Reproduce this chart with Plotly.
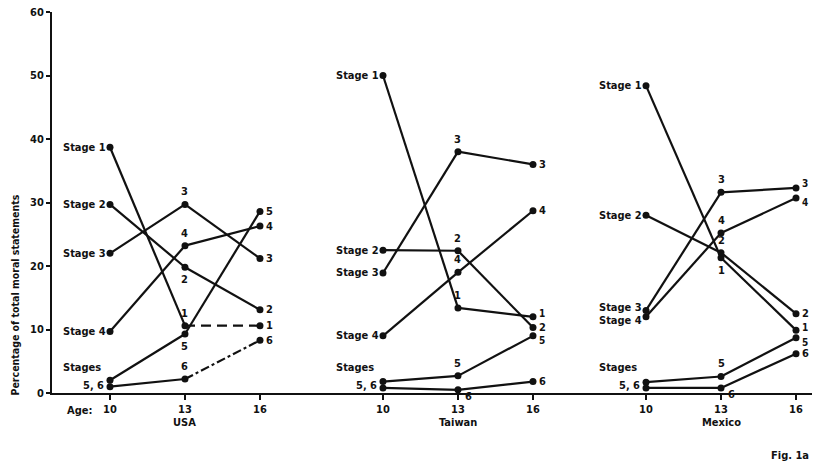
import plotly.graph_objects as go

# ---------------- data ----------------
ages = [10, 13, 16]
countries = ["USA", "Taiwan", "Mexico"]
stages = [1, 2, 3, 4, 5, 6]

usa_values = {
    1: [38.7, 10.6, 10.6],
    2: [29.7, 19.8, 13.1],
    3: [22.0, 29.7, 21.2],
    4: [9.7, 23.2, 26.3],
    5: [2.0, 9.3, 28.6],
    6: [1.0, 2.2, 8.3],
}
taiwan_values = {
    1: [50.0, 13.4, 12.0],
    2: [22.5, 22.4, 10.3],
    3: [18.9, 38.0, 36.0],
    4: [9.0, 19.0, 28.7],
    5: [1.8, 2.7, 9.0],
    6: [0.8, 0.5, 1.8],
}
mexico_values = {
    1: [48.4, 21.3, 9.9],
    2: [28.0, 22.1, 12.5],
    3: [13.0, 31.6, 32.3],
    4: [12.0, 25.2, 30.7],
    5: [1.7, 2.6, 8.7],
    6: [0.8, 0.8, 6.2],
}
values = {"USA": usa_values, "Taiwan": taiwan_values, "Mexico": mexico_values}

# label placement at age 13 (above / below / right)
label13 = {
    "USA":    {1: "above", 2: "below", 3: "above", 4: "above", 5: "below", 6: "above"},
    "Taiwan": {1: "above", 2: "above", 3: "above", 4: "above", 5: "above", 6: "right"},
    "Mexico": {1: "below", 2: "above", 3: "above", 4: "above", 5: "above", 6: "right"},
}
# small vertical nudges for crowded labels (pixels)
shift10 = {("Mexico", 3): 3, ("Mexico", 4): -4}
shift16 = {("Taiwan", 1): 3, ("Taiwan", 5): -5,
           ("Mexico", 3): 4, ("Mexico", 4): -4,
           ("Mexico", 1): 3, ("Mexico", 5): -5}
# dashed segments (segment index between ages)
dashed = {("USA", 1): {1: "10px,6px"}, ("USA", 6): {1: "dashdot"}}

y_ticks = [0, 10, 20, 30, 40, 50, 60]

# ---------------- layout constants ----------------
axis_names = {"USA": "x", "Taiwan": "x2", "Mexico": "x3"}
domains = {"USA": [0, 0.3526], "Taiwan": [0.3526, 0.7079], "Mexico": [0.7079, 1.0]}
ranges = {"USA": [7.68, 18.4], "Taiwan": [7.48, 18.28], "Mexico": [7.76, 16.64]}

FONT = "DejaVu Sans Condensed"
INK = "#111111"


def f(size=11):
    return dict(family=FONT, size=size, color=INK, weight="bold")


fig = go.Figure()
annotations = []

for c in countries:
    xa = axis_names[c]
    for s in stages:
        vals = values[c][s]
        dsegs = dashed.get((c, s), {})
        for i in range(len(ages) - 1):
            fig.add_trace(go.Scatter(
                x=ages[i:i + 2], y=vals[i:i + 2], xaxis=xa, yaxis="y",
                mode="lines",
                line=dict(color=INK, width=2.2, dash=dsegs.get(i, "solid")),
                showlegend=False, hoverinfo="skip"))
        fig.add_trace(go.Scatter(
            x=ages, y=vals, xaxis=xa, yaxis="y", mode="markers",
            marker=dict(color=INK, size=7), showlegend=False,
            name=f"{c} Stage {s}"))
        # labels at age 10
        if s <= 4:
            annotations.append(dict(x=ages[0], y=vals[0], xref=xa, yref="y",
                                    text=f"Stage {s}", showarrow=False,
                                    xanchor="right", yanchor="middle", xshift=-2,
                                    yshift=shift10.get((c, s), 0), font=f()))
        # labels at age 13
        pos = label13[c][s]
        if pos == "above":
            kw = dict(xanchor="center", yanchor="bottom", yshift=4)
        elif pos == "below":
            kw = dict(xanchor="center", yanchor="top", yshift=-4)
        else:
            kw = dict(xanchor="left", yanchor="top", xshift=5, yshift=2)
        annotations.append(dict(x=ages[1], y=vals[1], xref=xa, yref="y",
                                text=str(s), showarrow=False, font=f(), **kw))
        # labels at age 16
        annotations.append(dict(x=ages[2], y=vals[2], xref=xa, yref="y",
                                text=str(s), showarrow=False, xanchor="left",
                                yanchor="middle", xshift=4,
                                yshift=shift16.get((c, s), 0),
                                font=f(10 if (c, s) in shift16 else 11)))
    # Stages 5,6 label
    annotations.append(dict(x=ages[0], y=4.0, xref=xa, yref="y", text="Stages",
                            showarrow=False, xanchor="right", yanchor="middle", xshift=-7,
                            font=f()))
    annotations.append(dict(x=ages[0], y=1.2, xref=xa, yref="y", text="5, 6",
                            showarrow=False, xanchor="right", yanchor="middle", xshift=-4,
                            font=f()))
    # country name
    annotations.append(dict(x=ages[1], y=-0.078, xref=xa, yref="paper", text=c,
                            showarrow=False, xanchor="center", yanchor="middle",
                            font=f()))

annotations.append(dict(x=0.017, y=-0.045, xref="paper", yref="paper", text="Age:",
                        showarrow=False, xanchor="left", yanchor="middle", font=f()))
annotations.append(dict(x=0.999, y=-0.165, xref="paper", yref="paper", text="Fig. 1a",
                        showarrow=False, xanchor="right", yanchor="middle", font=f()))
annotations.append(dict(x=-0.049, y=0.258, xref="paper", yref="paper",
                        text="Percentage of total moral statements", textangle=-90,
                        showarrow=False, xanchor="center", yanchor="middle",
                        font=f(10.5)))

xaxis_common = dict(tickvals=ages, ticktext=[str(a) for a in ages], ticks="outside",
                    ticklen=5, tickwidth=1.5, tickcolor=INK, showline=True, linewidth=2,
                    linecolor=INK, showgrid=False, zeroline=False, anchor="y",
                    tickfont=f())

layout_axes = {}
for c in countries:
    key = "xaxis" if axis_names[c] == "x" else "xaxis" + axis_names[c][1:]
    layout_axes[key] = dict(domain=domains[c], range=ranges[c], **xaxis_common)

fig.update_layout(
    width=818, height=470,
    margin=dict(l=52, r=6, t=12, b=77),
    paper_bgcolor="white", plot_bgcolor="white",
    yaxis=dict(range=[0, 60], tickvals=y_ticks, ticks="outside", ticklen=4,
               tickwidth=1.5, tickcolor=INK, showline=True, linewidth=2, linecolor=INK,
               showgrid=False, zeroline=False, tickfont=f(), ticklabeloverflow="allow"),
    annotations=annotations,
    **layout_axes,
)

# remove the page's default body margin so the figure fills the window exactly
fig.write_html("out.html", config={"displayModeBar": False},
               post_script="document.body.style.margin='0';document.body.style.overflow='hidden';")
